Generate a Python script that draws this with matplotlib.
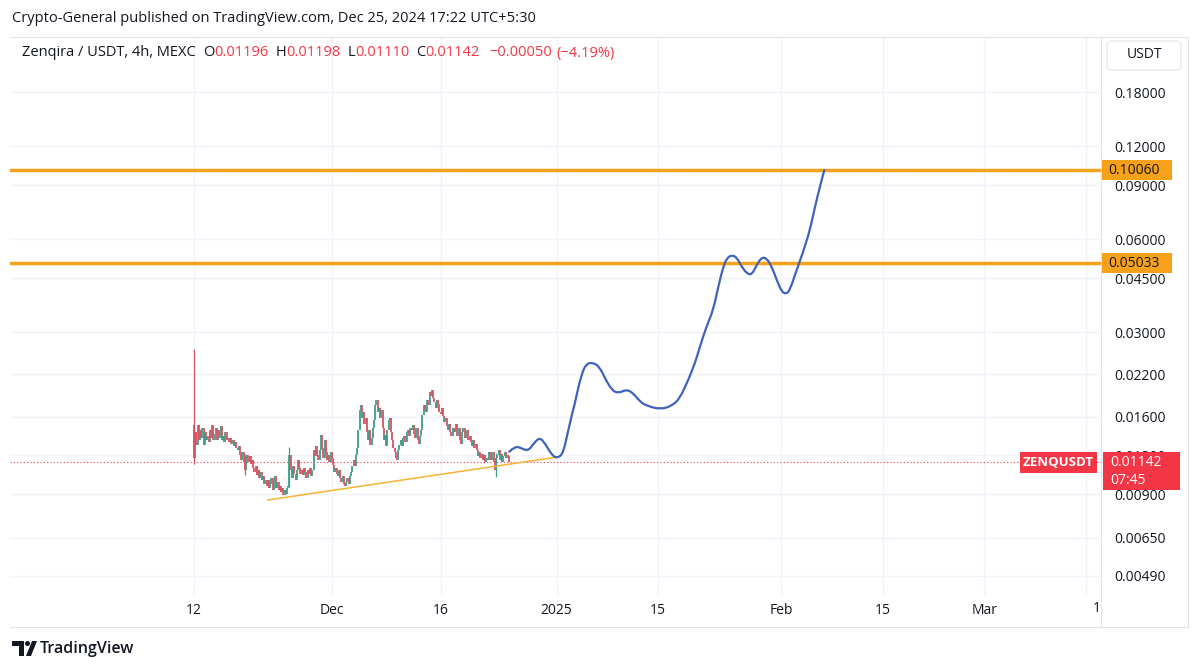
import matplotlib
matplotlib.use("Agg")
import matplotlib.pyplot as plt
import matplotlib.dates as mdates
import pandas as pd
from matplotlib.patches import Rectangle, FancyBboxPatch, Polygon, Circle, PathPatch
from matplotlib.path import Path
from matplotlib.transforms import IdentityTransform
from matplotlib.ticker import NullLocator

plt.rcParams['font.family'] = ['Open Sans', 'DejaVu Sans']

# ZENQ/USDT 4h candles from 2024-11-12 00:00 (open = previous close)
start = "2024-11-12 00:00"
first_open = 0.0150
closes = [
    0.01177, 0.01429, 0.01297, 0.01505, 0.01346, 0.01451,
    0.01367, 0.01472, 0.01297, 0.01429, 0.01346, 0.01388,
    0.01326, 0.01451, 0.01367, 0.01505, 0.01346, 0.01408,
    0.01472, 0.01346, 0.01451, 0.01367, 0.01494, 0.01346,
    0.01388, 0.01326, 0.01429, 0.01346, 0.01367, 0.01326,
    0.01367, 0.01307, 0.01346, 0.01287, 0.01326, 0.01268,
    0.01249, 0.01287, 0.01204, 0.01160, 0.01231, 0.01143,
    0.01076, 0.01177, 0.01204, 0.01143, 0.01195, 0.01126,
    0.01160, 0.01093, 0.01061, 0.01109, 0.01037, 0.01076,
    0.01014, 0.01061, 0.00999, 0.01030, 0.00970, 0.00999,
    0.00956, 0.00999, 0.00942, 0.00970, 0.01014, 0.00928,
    0.00970, 0.01030, 0.00942, 0.00984, 0.00928, 0.00956,
    0.00914, 0.00942, 0.00894, 0.00928, 0.00901, 0.00942,
    0.00956, 0.01204, 0.01076, 0.01014, 0.01109, 0.01045,
    0.00999, 0.01076, 0.01160, 0.01093, 0.01045, 0.01076,
    0.01037, 0.01093, 0.01061, 0.01014, 0.01076, 0.01045,
    0.01093, 0.01030, 0.01076, 0.01249, 0.01195, 0.01287,
    0.01204, 0.01160, 0.01249, 0.01398, 0.01268, 0.01177,
    0.01346, 0.01231, 0.01160, 0.01204, 0.01143, 0.01231,
    0.01177, 0.01117, 0.01061, 0.01093, 0.01045, 0.01030,
    0.01076, 0.01014, 0.00984, 0.01030, 0.00970, 0.00956,
    0.00984, 0.01014, 0.00970, 0.01030, 0.01061, 0.01109,
    0.01160, 0.01109, 0.01204, 0.01268, 0.01451, 0.01683,
    0.01748, 0.01586, 0.01658, 0.01516, 0.01586, 0.01429,
    0.01346, 0.01451, 0.01297, 0.01367, 0.01472, 0.01562,
    0.01748, 0.01814, 0.01658, 0.01710, 0.01586, 0.01683,
    0.01472, 0.01346, 0.01398, 0.01287, 0.01451, 0.01562,
    0.01586, 0.01429, 0.01346, 0.01268, 0.01231, 0.01177,
    0.01160, 0.01249, 0.01297, 0.01346, 0.01287, 0.01367,
    0.01388, 0.01326, 0.01429, 0.01451, 0.01388, 0.01472,
    0.01451, 0.01505, 0.01408, 0.01367, 0.01472, 0.01346,
    0.01307, 0.01388, 0.01451, 0.01622, 0.01748, 0.01683,
    0.01658, 0.01814, 0.01748, 0.01925, 0.01869, 0.01954,
    0.01841, 0.01787, 0.01710, 0.01814, 0.01761, 0.01658,
    0.01634, 0.01710, 0.01610, 0.01539, 0.01586, 0.01494,
    0.01451, 0.01516, 0.01429, 0.01388, 0.01472, 0.01429,
    0.01451, 0.01516, 0.01388, 0.01472, 0.01346, 0.01307,
    0.01429, 0.01472, 0.01367, 0.01408, 0.01451, 0.01346,
    0.01388, 0.01326, 0.01287, 0.01346, 0.01268, 0.01307,
    0.01249, 0.01195, 0.01231, 0.01177, 0.01213, 0.01160,
    0.01204, 0.01143, 0.01177, 0.01160, 0.01231, 0.01195,
    0.01160, 0.01231, 0.01143, 0.01076, 0.01177, 0.01204,
    0.01249, 0.01160, 0.01213, 0.01143, 0.01195, 0.01231,
    0.01177, 0.01204, 0.01196, 0.01142,
]
# a few visible long wicks
wick_idx = [0, 42, 79, 250]
wick_high = [0.0265, 0.0121, 0.0128, 0.0122]
wick_low = [0.0113, 0.0104, 0.0095, 0.0102]

# hand drawn projection (days after 2024-11-12)
path_day = [43.49, 44.28, 45.2, 46.11, 47.03, 47.72, 48.41, 49.34, 50.11, 50.94,
            51.63, 52.55, 53.48, 54.17, 55.08, 55.9, 56.69, 57.61, 58.52, 59.68,
            60.59, 61.52, 62.44, 64.28, 65.89, 67.03, 68.18, 69.1, 69.79, 70.62,
            71.63, 72.32, 73.01, 73.48, 74.17, 74.86, 75.54, 76.23, 76.92, 77.61,
            78.3, 79.0, 79.68, 80.37, 81.06, 81.66, 82.21, 83.13, 84.04, 84.97,
            85.66, 86.34, 86.94]
path_price = [0.01234, 0.01287, 0.01265, 0.01240, 0.01329, 0.01369, 0.01313, 0.01204, 0.01175, 0.01219,
              0.01451, 0.01770, 0.02213, 0.02384, 0.02394, 0.02324, 0.02132, 0.01954, 0.01906, 0.01964,
              0.01906, 0.01791, 0.01738, 0.01692, 0.01734, 0.01837, 0.02105, 0.02384, 0.02698, 0.03101,
              0.03546, 0.04219, 0.04896, 0.05213, 0.05343, 0.05252, 0.04896, 0.04662, 0.04603, 0.04959,
              0.05252, 0.05213, 0.04896, 0.04435, 0.04064, 0.03996, 0.04116, 0.04778, 0.05477, 0.06436,
              0.07657, 0.08889, 0.10060]

trend_day = [10.2, 49.7]
trend_price = [0.00861, 0.01182]

levels = [0.10060, 0.05033]
last_price = 0.01142

price_ticks = [0.18, 0.12, 0.09, 0.06, 0.045, 0.03, 0.022, 0.016, 0.012, 0.009, 0.0065, 0.0049]
date_ticks = ["2024-11-12", "2024-12-01", "2024-12-16", "2025-01-01", "2025-01-15",
              "2025-02-01", "2025-02-15", "2025-03-01", "2025-03-15"]
date_labels = ["12", "Dec", "16", "2025", "15", "Feb", "15", "Mar", ""]

GREEN = "#3e9e8e"
RED = "#d9535f"
TAGRED = "#f23645"
ORANGE = "#f7a11a"
BLUE = "#3f62bd"
GRID = "#f0f3fa"
TXT = "#131722"
BORDER = "#e0e3eb"

W, H = 1200, 671


def fx(x):
    return x / W


def fy(y):
    return 1 - y / H


fig = plt.figure(figsize=(12, 6.71), dpi=100)
ax = fig.add_axes([fx(10), fy(595), (1101 - 10) / W, (595 - 38) / H])

base = mdates.date2num(pd.Timestamp(start))
times = mdates.date2num(pd.date_range(start, periods=len(closes), freq="4h"))
opens = [first_open] + closes[:-1]

for t, o, c in zip(times, opens, closes):
    col = GREEN if c >= o else RED
    lo, hi = min(o, c), max(o, c)
    if hi / lo < 1.006:
        hi = lo * 1.006
    ax.vlines(t, lo, hi, color=col, lw=1.3, zorder=3)
for i, h, l in zip(wick_idx, wick_high, wick_low):
    col = GREEN if closes[i] >= opens[i] else RED
    ax.vlines(times[i], l, h, color=col, lw=0.9, zorder=3)

ax.plot(base + pd.Series(trend_day), trend_price, color="#f5b335", lw=1.1, zorder=4)

# smooth brush stroke through the projection points
pts = [(base + d, p) for d, p in zip(path_day, path_price)]
verts = [pts[0]]
codes = [Path.MOVETO]
for a, b in zip(pts[1:-1], pts[2:]):
    verts += [a, ((a[0] + b[0]) / 2, (a[1] + b[1]) / 2)]
    codes += [Path.CURVE3, Path.CURVE3]
verts.append(pts[-1])
codes.append(Path.LINETO)
ax.add_patch(PathPatch(Path(verts, codes), facecolor="none", edgecolor=BLUE, lw=1.6,
                       zorder=5, capstyle="round", joinstyle="round"))

for lv in levels:
    ax.axhline(lv, color=ORANGE, lw=2.5, zorder=4)
ax.axhline(last_price, color=TAGRED, lw=0.8, ls=(0, (1, 2)), zorder=2)

ax.set_yscale("log")
ax.set_ylim(0.004242, 0.2692)
ax.set_xlim(base - 25.38, base + 125.1)
ax.set_yticks(price_ticks)
ax.set_yticklabels([f"{p:.5f}" for p in price_ticks])
ax.yaxis.set_minor_locator(NullLocator())
ax.set_xticks(mdates.date2num(pd.to_datetime(date_ticks)))
ax.set_xticklabels(date_labels)
ax.yaxis.tick_right()
ax.tick_params(axis="y", length=0, pad=9.5, labelsize=10, labelcolor=TXT)
ax.tick_params(axis="x", length=0, pad=6, labelsize=10, labelcolor=TXT)
ax.grid(True, color=GRID, lw=1)
for s in ax.spines.values():
    s.set_visible(False)

# frame lines
for x0, y0, x1, y1 in [(10, 37, 1188, 37), (1101, 37, 1101, 627), (10, 627, 1188, 627),
                       (1188, 37, 1188, 627)]:
    fig.add_artist(plt.Line2D([fx(x0), fx(x1)], [fy(y0), fy(y1)], color=BORDER, lw=0.8))
fig.text(fx(1097), fy(608), "1", fontsize=10, color=TXT, ha="center", va="center")

fig.canvas.draw()
ident = IdentityTransform()


def py(p):
    return ax.transData.transform((base, p))[1]


def tag(x0, x1, ytop, ybot, color):
    fig.add_artist(Rectangle((x0, H - ybot), x1 - x0, ybot - ytop, transform=ident,
                             facecolor=color, edgecolor="none", zorder=5))


for lv in levels:
    yc = H - py(lv)
    tag(1102, 1172, yc - 10, yc + 10, ORANGE)
    fig.text(1108, H - yc, f"{lv:.5f}", transform=ident, fontsize=10, color=TXT,
             va="center", zorder=6)

yc = H - py(last_price)
tag(1103, 1180, yc - 10, yc + 28, TAGRED)
fig.text(1110, H - yc, f"{last_price:.5f}", transform=ident, fontsize=10, color="white",
         va="center", zorder=6)
fig.text(1110, H - yc - 18, "07:45", transform=ident, fontsize=10, color="white",
         va="center", zorder=6)
tag(1020, 1097, yc - 10, yc + 11, TAGRED)
fig.text(1058, H - yc, "ZENQUSDT", transform=ident, fontsize=9.5, color="white",
         va="center", ha="center", weight="bold", zorder=6)

# USDT box
fig.add_artist(FancyBboxPatch((1107, H - 70), 74, 29, transform=ident,
                              boxstyle="round,pad=0,rounding_size=4",
                              facecolor="white", edgecolor=BORDER, lw=0.8, zorder=5))
fig.text(1144, H - 55, "USDT", transform=ident, fontsize=10, color=TXT,
         ha="center", va="center", zorder=6)

# headers
fig.text(fx(12), fy(18), "Crypto-General published on TradingView.com, Dec 25, 2024 17:22 UTC+5:30",
         fontsize=10.5, color=TXT, va="center")
renderer = fig.canvas.get_renderer()
pieces = [("Zenqira / USDT, 4h, MEXC", TXT, 7), ("O", TXT, 0), ("0.01196", TAGRED, 7),
          ("H", TXT, 0), ("0.01198", TAGRED, 7), ("L", TXT, 0), ("0.01110", TAGRED, 7),
          ("C", TXT, 0), ("0.01142", TAGRED, 9), ("\u22120.00050", TAGRED, 5),
          ("(\u22124.19%)", TAGRED, 0)]
xpos = 22
for s, col, gap in pieces:
    t = fig.text(xpos, H - 53, s, transform=ident, fontsize=10.5, color=col, va="center")
    xpos = t.get_window_extent(renderer).x1 + gap

# TradingView logo
fig.add_artist(Polygon([(12, H - 641), (24, H - 641), (24, H - 656), (19, H - 656),
                        (19, H - 646), (12, H - 646)], closed=True, transform=ident,
                       facecolor=TXT, edgecolor="none"))
fig.add_artist(Circle((27.5, H - 643.5), 2.5, transform=ident, facecolor=TXT, edgecolor="none"))
fig.add_artist(Polygon([(26, H - 656), (32, H - 641), (37, H - 641), (31, H - 656)], closed=True,
                       transform=ident, facecolor=TXT, edgecolor="none"))
fig.text(40, H - 649, "TradingView", transform=ident, fontsize=11.5, color=TXT,
         va="center", weight="semibold")

fig.savefig("out.png", dpi=100)
